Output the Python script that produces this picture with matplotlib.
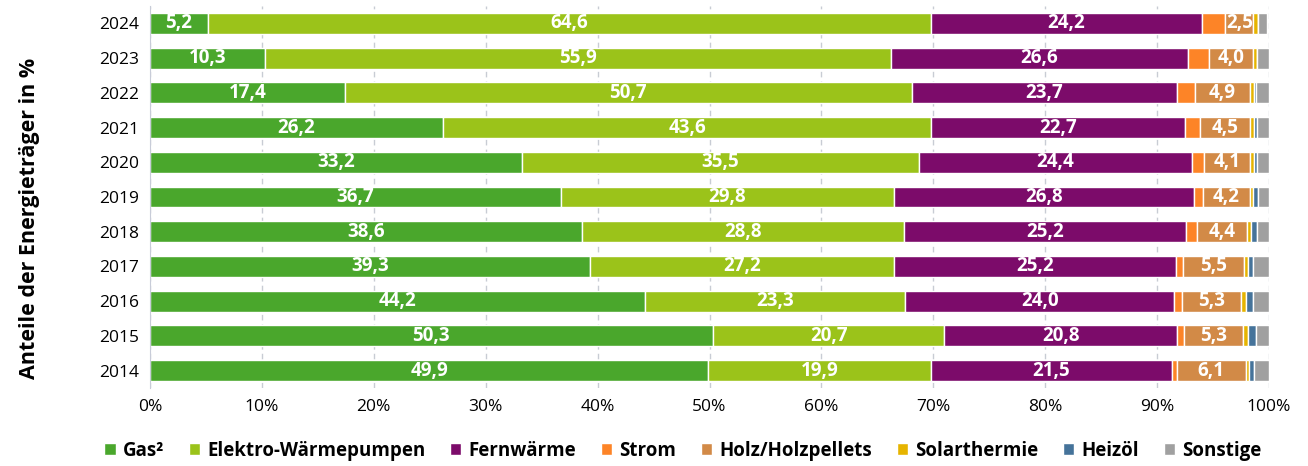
import numpy as np
import matplotlib.pyplot as plt

plt.rcParams['font.family'] = ['Open Sans', 'DejaVu Sans']

years = ['2014', '2015', '2016', '2017', '2018', '2019', '2020', '2021', '2022', '2023', '2024']
gas = [49.9, 50.3, 44.2, 39.3, 38.6, 36.7, 33.2, 26.2, 17.4, 10.3, 5.2]
elektro = [19.9, 20.7, 23.3, 27.2, 28.8, 29.8, 35.5, 43.6, 50.7, 55.9, 64.6]
fernwaerme = [21.5, 20.8, 24.0, 25.2, 25.2, 26.8, 24.4, 22.7, 23.7, 26.6, 24.2]
strom = [0.5, 0.6, 0.7, 0.6, 1.0, 0.8, 1.1, 1.3, 1.6, 1.8, 2.1]
holz = [6.1, 5.3, 5.3, 5.5, 4.4, 4.2, 4.1, 4.5, 4.9, 4.0, 2.5]
solar = [0.3, 0.4, 0.4, 0.3, 0.4, 0.3, 0.4, 0.4, 0.4, 0.3, 0.4]
heizoel = [0.5, 0.7, 0.7, 0.5, 0.5, 0.4, 0.2, 0.2, 0.1, 0.0, 0.0]
sonstige = [1.3, 1.2, 1.4, 1.4, 1.1, 1.0, 1.1, 1.1, 1.2, 1.1, 0.8]

series = [
    ('Gas²', gas, '#4aa72c', True),
    ('Elektro-Wärmepumpen', elektro, '#9bc31a', True),
    ('Fernwärme', fernwaerme, '#7c0b6a', True),
    ('Strom', strom, '#fd8427', False),
    ('Holz/Holzpellets', holz, '#d28a47', True),
    ('Solarthermie', solar, '#e6b400', False),
    ('Heizöl', heizoel, '#45739a', False),
    ('Sonstige', sonstige, '#a0a0a0', False),
]

fig = plt.figure(figsize=(13.08, 4.66), dpi=100)
ax = fig.add_axes([150 / 1308, 1 - 388 / 466, 1119 / 1308, 382 / 466])

y = np.arange(len(years))
left = np.zeros(len(years))
for name, vals, color, show in series:
    vals = np.array(vals)
    bars = ax.barh(y, vals, left=left, height=0.6, color=color, edgecolor='white',
                   linewidth=1, label=name, zorder=3)
    if show:
        labels = [f'{v:.1f}'.replace('.', ',') for v in vals]
        ax.bar_label(bars, labels=labels, label_type='center', color='white',
                     fontsize=13.5, fontweight='bold')
    left += vals

ax.set_xlim(0, 100)
ax.set_ylim(-0.5, len(years) - 0.5)
ax.set_yticks(y)
ax.set_yticklabels(years, fontsize=12.5)
ax.set_xticks(np.arange(0, 101, 10))
ax.set_xticklabels([f'{v}%' for v in range(0, 101, 10)], fontsize=12.5)
ax.tick_params(length=0, pad=8)
ax.grid(axis='x', color='#c8ccd4', linestyle=(0, (4, 3)), linewidth=1, zorder=0)
for s in ['top', 'right', 'bottom']:
    ax.spines[s].set_visible(False)
ax.spines['left'].set_color('#c8ccd8')
ax.spines['left'].set_zorder(4)

fig.text(30 / 1308, 1 - 218 / 466, 'Anteile der Energieträger in %', rotation=90,
         ha='center', va='center', fontsize=15.5, fontweight='bold')

fig.legend(loc='center', bbox_to_anchor=(683 / 1308, 1 - 451 / 466), ncol=8,
           frameon=False, prop={'weight': 'bold', 'size': 13.5},
           handlelength=0.6, handleheight=0.6, handletextpad=0.4, columnspacing=1.3)

fig.savefig('out.png', dpi=100)
